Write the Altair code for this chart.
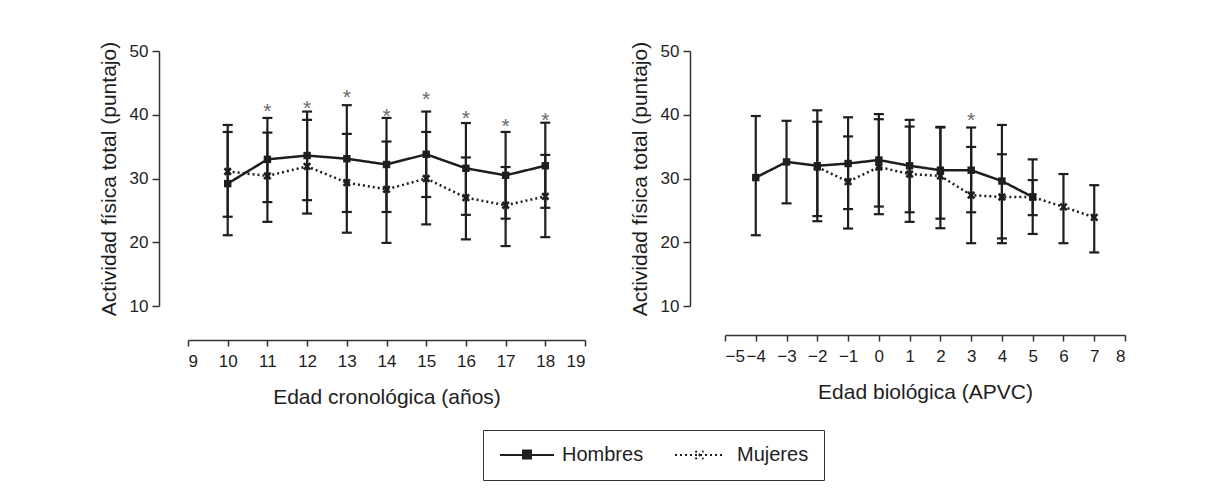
import altair as alt
import pandas as pd

# ---------------- Panel izquierdo: edad cronológica ----------------
edad_crono = [10, 11, 12, 13, 14, 15, 16, 17, 18]
izq_h_media = [29.2, 33.0, 33.6, 33.1, 32.2, 33.8, 31.6, 30.5, 32.0]
izq_h_sup = [37.3, 39.5, 40.5, 41.5, 39.5, 40.5, 38.7, 37.3, 38.75]
izq_h_inf = [21.1, 26.3, 26.6, 24.75, 24.75, 27.1, 24.3, 23.7, 25.4]
izq_m_media = [31.1, 30.4, 31.9, 29.35, 28.3, 30.0, 27.0, 25.8, 27.2]
izq_m_sup = [38.4, 37.2, 39.2, 37.0, 35.8, 37.3, 33.3, 31.8, 33.7]
izq_m_inf = [24.0, 23.2, 24.5, 21.5, 19.9, 22.8, 20.45, 19.4, 20.8]
izq_ast_x = [11, 12, 13, 14, 15, 16, 17, 18]
izq_ast_y = [41.4, 41.85, 43.5, 40.6, 43.3, 40.2, 39.0, 40.0]
izq_ticks = [9, 10, 11, 12, 13, 14, 15, 16, 17, 18, 19]

# ---------------- Panel derecho: edad biológica (APVC) ----------------
der_h_x = [-4, -3, -2, -1, 0, 1, 2, 3, 4, 5]
der_h_media = [30.15, 32.6, 32.0, 32.35, 32.9, 32.0, 31.3, 31.3, 29.6, 27.1]
der_h_sup = [39.8, 39.05, 40.7, 39.6, 40.1, 39.2, 38.1, 38.0, 38.4, 33.0]
der_h_inf = [21.1, 26.1, 23.3, 25.2, 25.6, 24.7, 23.7, 24.7, 20.6, 21.3]
der_m_x = [-2, -1, 0, 1, 2, 3, 4, 5, 6, 7]
der_m_media = [31.8, 29.5, 31.8, 30.7, 30.4, 27.4, 27.1, 27.1, 25.55, 23.9]
der_m_sup = [38.9, 36.6, 39.3, 38.15, 38.0, 34.95, 33.8, 29.75, 30.7, 28.95]
der_m_inf = [24.1, 22.15, 24.4, 23.2, 22.2, 19.85, 19.85, 24.25, 19.85, 18.4]
der_ast_x = [3]
der_ast_y = [40.0]
der_ticks = [-5, -4, -3, -2, -1, 0, 1, 2, 3, 4, 5, 6, 7, 8]

y_ticks = [10, 20, 30, 40, 50]
sexos = ["Hombres", "Mujeres"]

NEGRO = "#1e1e1e"
FUENTE = "Liberation Sans"
# legend symbols: line segment with the marker in its middle (square drawn by strokes)
PATH_H = ("M-1,0H5.75"
          "M1.75,-0.55H3M3,-0.3H1.75M1.75,-0.05H3M3,0.2H1.75M1.75,0.45H3")
PATH_M = "M-1,0H5.1M1.55,-0.5L2.55,0.5M1.55,0.5L2.55,-0.5"
PATH_X = "M-1,-1L1,1M-1,1L1,-1"


def tabla(xh, mh, ih, sh, xm, mm, im, sm):
    h = pd.DataFrame({"x": xh, "media": mh, "inf": ih, "sup": sh, "sexo": sexos[0]})
    m = pd.DataFrame({"x": xm, "media": mm, "inf": im, "sup": sm, "sexo": sexos[1]})
    return pd.concat([h, m], ignore_index=True)


def leyenda():
    return alt.Legend(
        title=None,
        orient="none",
        legendX=295,
        legendY=379,
        direction="horizontal",
        symbolSize=256,
        symbolStrokeWidth=2,
        symbolStrokeColor=NEGRO,
        symbolFillColor=NEGRO,
        symbolOpacity=1,
        labelFontSize=20,
        labelFont=FUENTE,
        labelColor=NEGRO,
        labelOffset=44,
        columnPadding=27,
        padding=15,
        strokeColor="#333333",
    )


def panel(df, ast, xdom, xvals, xtitle, ancho, xoff, yoff):
    xs = alt.Scale(domain=xdom, nice=False, zero=False)
    ys = alt.Scale(domain=[10, 50], nice=False, zero=False)
    xaxis = alt.Axis(values=xvals, title=xtitle, offset=xoff, tickSize=6,
                     labelPadding=7, titlePadding=17, grid=False, format="d")
    yaxis = alt.Axis(values=y_ticks, title="Actividad física total (puntajo)",
                     offset=yoff, tickSize=7, labelPadding=4, titlePadding=10,
                     grid=False)

    def X():
        return alt.X("x:Q", scale=xs, axis=xaxis)

    def Y(campo):
        return alt.Y(campo, scale=ys, axis=yaxis)

    base = alt.Chart(df)
    fantasma = base.mark_point(filled=False, stroke=NEGRO, strokeWidth=2,
                               size=1, opacity=0).encode(
        x=X(), y=Y("media:Q"),
        shape=alt.Shape("sexo:N", scale=alt.Scale(domain=sexos, range=[PATH_H, PATH_M]),
                        legend=leyenda()),
    )
    barras = base.mark_rule(color=NEGRO, strokeWidth=2.2).encode(
        x=X(), y=Y("inf:Q"), y2="sup:Q",
    )
    tope_sup = base.mark_tick(orient="horizontal", size=10, thickness=2.2,
                              color=NEGRO, opacity=1).encode(x=X(), y=Y("sup:Q"))
    tope_inf = base.mark_tick(orient="horizontal", size=10, thickness=2.2,
                              color=NEGRO, opacity=1).encode(x=X(), y=Y("inf:Q"))
    lineas = base.mark_line(color=NEGRO, strokeWidth=2.5).encode(
        x=X(), y=Y("media:Q"),
        strokeDash=alt.StrokeDash(
            "sexo:N",
            scale=alt.Scale(domain=sexos, range=[[1, 0], [2, 3]]),
            legend=leyenda(),
        ),
    )
    cuadros = base.transform_filter(alt.datum.sexo == "Hombres").mark_point(
        shape="square", filled=True, size=55, color=NEGRO, opacity=1
    ).encode(x=X(), y=Y("media:Q"))
    cruces = base.transform_filter(alt.datum.sexo == "Mujeres").mark_point(
        shape=PATH_X, filled=False, size=42, strokeWidth=2.6, color=NEGRO, opacity=1
    ).encode(x=X(), y=Y("media:Q"))
    asteriscos = alt.Chart(ast).mark_text(
        text="*", fontSize=21, font=FUENTE, color="#6a6a6a", dy=6
    ).encode(x=X(), y=Y("y:Q"))
    return alt.layer(fantasma, barras, tope_sup, tope_inf, lineas, cuadros, cruces,
                     asteriscos).properties(width=ancho, height=255)


df_izq = tabla(edad_crono, izq_h_media, izq_h_inf, izq_h_sup,
               edad_crono, izq_m_media, izq_m_inf, izq_m_sup)
df_der = tabla(der_h_x, der_h_media, der_h_inf, der_h_sup,
               der_m_x, der_m_media, der_m_inf, der_m_sup)
ast_izq = pd.DataFrame({"x": izq_ast_x, "y": izq_ast_y})
ast_der = pd.DataFrame({"x": der_ast_x, "y": der_ast_y})

izq = panel(df_izq, ast_izq, [9, 19], izq_ticks, "Edad cronológica (años)", 397, 34, 29)
der = panel(df_der, ast_der, [-5, 8], der_ticks, "Edad biológica (APVC)", 400, 29, 35)

chart = alt.hconcat(izq, der, spacing=41).resolve_scale(
    strokeDash="shared", shape="shared"
).resolve_legend(strokeDash="shared", shape="shared").properties(
    padding={"left": 89, "top": 32, "right": 5, "bottom": 5}
).configure_view(stroke="transparent").configure_axis(
    labelFont=FUENTE, titleFont=FUENTE, labelFontSize=17, titleFontSize=21,
    titleFontWeight="normal", labelColor=NEGRO, titleColor=NEGRO,
    domainColor="#333333", tickColor="#333333", domainWidth=1.5, tickWidth=1.5,
)

chart.save("out.html", embed_options={"renderer": "svg", "actions": False})
